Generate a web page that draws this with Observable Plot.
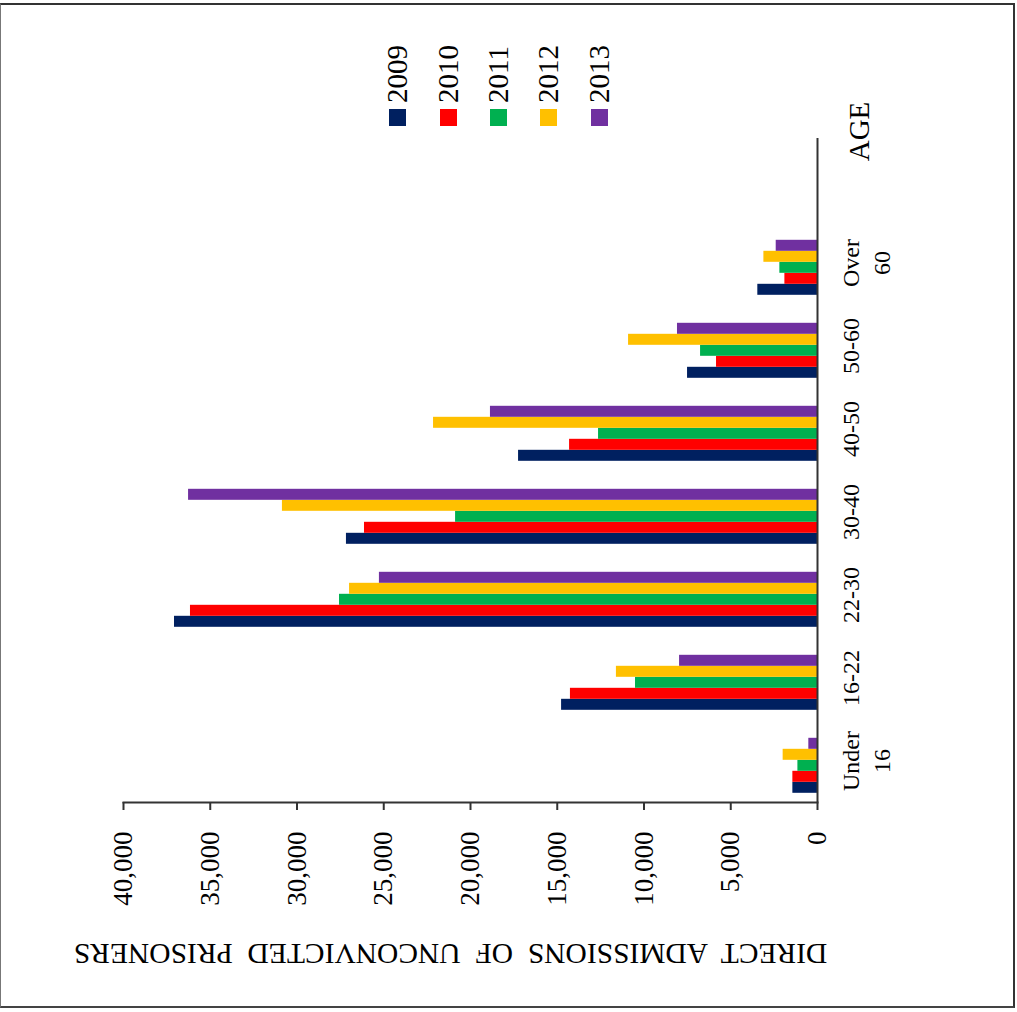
<!DOCTYPE html>
<html><head><meta charset="utf-8">
<script src="https://cdn.jsdelivr.net/npm/d3@7"></script>
<script src="https://cdn.jsdelivr.net/npm/@observablehq/plot@0.6"></script>
<style>
html,body{margin:0;padding:0;background:#fff;}
#wrap{position:relative;width:1017px;height:1012px;overflow:hidden;font-family:"Liberation Serif","Times New Roman",serif;}
#wrap svg{position:absolute;left:0;top:0;}
#border{position:absolute;left:0;top:3px;width:1015px;height:1005px;border-top:2px solid #333;border-left:1px solid #777;border-right:2px solid #333;border-bottom:2px solid #444;box-sizing:border-box;pointer-events:none;}
.sw{position:absolute;width:17px;height:17px;}
.lab{position:absolute;font-size:29px;line-height:29px;white-space:nowrap;transform:rotate(-90deg);transform-origin:0 0;color:#000;}
</style></head>
<body><div id="wrap"><div id="border"></div></div>
<script>
// ---- data ----
const ages = ["Under 16", "16-22", "22-30", "30-40", "40-50", "50-60", "Over 60"];
const ageLabels = ["Under\n16", "16-22", "22-30", "30-40", "40-50", "50-60", "Over\n60"];
const years = ["2009", "2010", "2011", "2012", "2013"];
const colors = ["#002060", "#FF0000", "#00B050", "#FFC000", "#7030A0"];
const v2009 = [1420, 14750, 37060, 27150, 17230, 7490, 3440];
const v2010 = [1420, 14240, 36140, 26110, 14290, 5820, 1880];
const v2011 = [1130, 10490, 27550, 20860, 12620, 6740, 2170];
const v2012 = [1980, 11590, 26970, 30840, 22130, 10890, 3090];
const v2013 = [500, 7950, 25250, 36250, 18850, 8070, 2380];
const xTicks = [0, 5000, 10000, 15000, 20000, 25000, 30000, 35000, 40000];
const valueTitle = "DIRECT  ADMISSIONS  OF  UNCONVICTED  PRISONERS";
const ageTitle = "AGE";
const endSlot = "(axis end)";

const series = [v2009, v2010, v2011, v2012, v2013];
const rows = ages.flatMap((a, i) => years.map((y, j) => ({age: a, year: y, value: series[j][i]})));

const font = '"Liberation Serif", "Times New Roman", serif';

const chart = Plot.plot({
  width: 1017,
  height: 1012,
  marginLeft: 123,
  marginRight: 200,
  marginTop: 135.2,
  marginBottom: 208,
  style: {fontFamily: font, background: "transparent", color: "#000"},
  x: {domain: [0, 40000], reverse: true, axis: null},
  y: {domain: years.slice().reverse(), paddingInner: 0, paddingOuter: 1.232, align: 0.674, axis: null},
  fy: {domain: [endSlot, ...ages.slice().reverse()], padding: 0, axis: null},
  color: {domain: years, range: colors},
  marks: [
    Plot.barX(rows, {fy: "age", y: "year", x: "value", fill: "year"}),
    Plot.ruleX([0], {stroke: "#333", strokeWidth: 2}),
    Plot.frame({anchor: "bottom", facetAnchor: "bottom", stroke: "#333", strokeWidth: 2}),
    Plot.axisX(xTicks, {
      anchor: "bottom", facetAnchor: "bottom",
      tickSize: 8, tickPadding: 21, tickRotate: -90,
      tickFormat: d3.format(","), fontSize: 27, fontFamily: font,
      stroke: "#333", strokeWidth: 2, label: null
    }),
    Plot.text(ages, {
      fy: d => d, text: (d, i) => ageLabels[i],
      frameAnchor: "right", rotate: -90, textAnchor: "middle", lineAnchor: "top",
      dx: 19, fontSize: 24, lineHeight: 1.3, fontFamily: font, fill: "#000"
    }),
    Plot.text([ageTitle], {
      fy: () => endSlot, text: d => d,
      frameAnchor: "top-right", rotate: -90, textAnchor: "middle",
      dx: 31, dy: -7, fontSize: 29, fontFamily: font, fill: "#000"
    }),
    Plot.text([valueTitle], {
      facetAnchor: "bottom", text: d => d,
      frameAnchor: "bottom", rotate: 180, textAnchor: "middle",
      dx: -20, dy: 141, fontSize: 29.5, fontFamily: font, fill: "#000"
    })
  ]
});

const wrap = document.getElementById("wrap");
wrap.insertBefore(chart, wrap.firstChild);

// ---- legend (HTML, colours from the plot's color scale) ----
const color = chart.scale("color");
const legendCx = [397.5, 448, 498.5, 548.5, 599];
const legendSwTop = 109, legendTextBottom = 103, legendFont = 29;
years.forEach((y, i) => {
  const sw = document.createElement("div");
  sw.className = "sw";
  sw.style.left = (legendCx[i] - 8.5) + "px";
  sw.style.top = legendSwTop + "px";
  sw.style.background = color.apply(y);
  wrap.appendChild(sw);
  const lab = document.createElement("div");
  lab.className = "lab";
  lab.textContent = y;
  lab.style.left = (legendCx[i] - legendFont / 2) + "px";
  lab.style.top = legendTextBottom + "px";
  wrap.appendChild(lab);
});
</script>
</body></html>
